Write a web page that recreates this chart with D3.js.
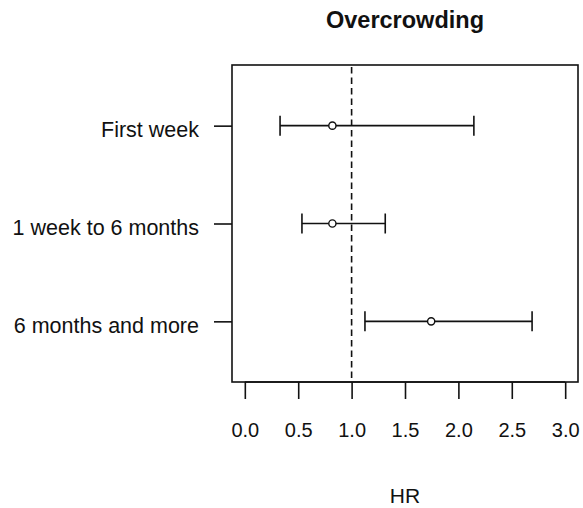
<!DOCTYPE html>
<html lang="en">
<head>
    <meta charset="UTF-8">
    <title>Overcrowding</title>
    <script src="https://d3js.org/d3.v7.min.js"></script>
    <style>
        body { margin: 0; background: white; }
        svg { display: block; }
        text { font-family: Arial, "Liberation Sans", sans-serif; fill: #111; }
    </style>
</head>
<body>
    <svg width="583" height="508"></svg>

    <script>
        // hazard ratios with 95% CI
        const groups = ["First week", "1 week to 6 months", "6 months and more"];
        const hr = [0.82, 0.82, 1.745];
        const lower = [0.33, 0.535, 1.125];
        const upper = [2.145, 1.315, 2.69];
        const xTicks = [0, 0.5, 1, 1.5, 2, 2.5, 3];

        let svg = d3.select("svg");

        let x = d3.scaleLinear().domain([-0.12, 3.12]).range([232, 578]);
        let y = d3.scaleLinear().domain([0.38, 3.62]).range([65, 382]);

        let rows = groups.map((g, i) => ({ name: g, pos: i + 1, hr: hr[i], lo: lower[i], hi: upper[i] }));

        // reference line at HR = 1
        svg.append("line")
            .attr("x1", x(1)).attr("x2", x(1))
            .attr("y1", 67).attr("y2", 382)
            .attr("stroke", "#111").attr("stroke-width", 1.6)
            .attr("stroke-dasharray", "6.5,4");

        // error bars
        let bars = svg.selectAll(".bar")
            .data(rows)
            .enter().append("g")
            .attr("class", "bar")
            .attr("stroke", "#111")
            .attr("stroke-width", 1.6);

        bars.append("line")
            .attr("x1", d => x(d.lo)).attr("x2", d => x(d.hi))
            .attr("y1", d => y(d.pos)).attr("y2", d => y(d.pos));
        bars.append("line")
            .attr("x1", d => x(d.lo)).attr("x2", d => x(d.lo))
            .attr("y1", d => y(d.pos) - 10).attr("y2", d => y(d.pos) + 10);
        bars.append("line")
            .attr("x1", d => x(d.hi)).attr("x2", d => x(d.hi))
            .attr("y1", d => y(d.pos) - 10).attr("y2", d => y(d.pos) + 10);
        bars.append("circle")
            .attr("cx", d => x(d.hr)).attr("cy", d => y(d.pos))
            .attr("r", 3.6)
            .attr("fill", "white")
            .attr("stroke-width", 1.4);

        // box
        svg.append("rect")
            .attr("x", 232).attr("y", 65)
            .attr("width", 346).attr("height", 317)
            .attr("fill", "none").attr("stroke", "#111").attr("stroke-width", 1.6);

        // x axis
        let xAxis = svg.append("g")
            .attr("transform", "translate(0,382)")
            .call(d3.axisBottom(x).tickValues(xTicks).tickFormat(d3.format(".1f")).tickSize(17).tickPadding(24));
        xAxis.select(".domain").attr("d", `M${x(0)},0H${x(3)}`).attr("stroke", "#111").attr("stroke-width", 1.6);
        xAxis.selectAll(".tick line").attr("stroke", "#111").attr("stroke-width", 1.6);
        xAxis.selectAll(".tick text")
            .attr("font-family", "Arial, 'Liberation Sans', sans-serif")
            .attr("font-size", 20).attr("fill", "#111");

        // y axis
        let yAxis = svg.append("g")
            .attr("transform", "translate(232,0)")
            .call(d3.axisLeft(y).tickValues([1, 2, 3]).tickFormat(d => groups[d - 1]).tickSize(18).tickPadding(15));
        yAxis.select(".domain").remove();
        yAxis.selectAll(".tick line").attr("stroke", "#111").attr("stroke-width", 1.6);
        yAxis.selectAll(".tick text")
            .attr("font-family", "Arial, 'Liberation Sans', sans-serif")
            .attr("font-size", 21.5).attr("fill", "#111")
            .attr("dy", "0.5em");

        // title and x label
        svg.append("text")
            .attr("x", 405).attr("y", 28)
            .attr("text-anchor", "middle")
            .attr("font-weight", "bold")
            .attr("font-size", 23.5)
            .text("Overcrowding");

        svg.append("text")
            .attr("x", 405).attr("y", 503)
            .attr("text-anchor", "middle")
            .attr("font-size", 21)
            .text("HR");
    </script>
</body>
</html>
